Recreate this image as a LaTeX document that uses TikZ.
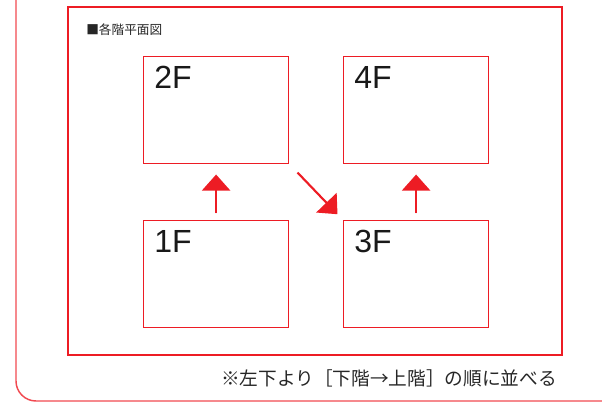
\documentclass[tikz,border=0pt]{standalone}
\usepackage{fontspec}
\setmainfont{Liberation Sans}
\newfontfamily\jpfont{Noto Sans CJK JP}
\usetikzlibrary{arrows.meta}
\definecolor{myred}{RGB}{237,28,36}
\begin{document}
\begin{tikzpicture}[x=0.75pt,y=-0.75pt,
  floorbox/.style={draw=myred,line width=0.9pt,minimum width=108.75pt,minimum height=80pt,inner sep=0pt,anchor=north west},
  floorlabel/.style={anchor=base west,inner sep=0pt,font=\fontsize{24}{24}\selectfont,text=black!90},
  redarrow/.style={draw=myred,fill=myred,line width=1.6pt,-{Triangle[width=21pt,length=12pt]}}]
\useasboundingbox (0,0) rectangle (602,403);
\begin{scope}
\clip (0,0) rectangle (602,403);
\draw[myred!80,line width=1.1pt,rounded corners=15pt] (16,-30) rectangle (622,401);
\end{scope}
\draw[myred,line width=2.2pt] (68,7) rectangle (562,355);
\node[anchor=west,inner sep=0pt,font=\jpfont\fontsize{9.5}{10}\selectfont,text=black!85] (title) at (86,30) {■各階平面図};
\node[floorbox] (f2) at (143,56) {};
\node[floorbox] (f4) at (343,56) {};
\node[floorbox] (f1) at (143,220) {};
\node[floorbox] (f3) at (343,220) {};
\node[floorlabel] (l2) at (154,88.5) {2F};
\node[floorlabel] (l4) at (354,88.5) {4F};
\node[floorlabel] (l1) at (154,252.5) {1F};
\node[floorlabel] (l3) at (354,252.5) {3F};
\draw[redarrow,shorten <=5pt,shorten >=8pt] (f1.north) -- (f2.south);
\draw[redarrow,shorten <=5pt,shorten >=8pt] (f3.north) -- (f4.south);
\draw[redarrow,shorten <=9pt,shorten >=6pt] (f2.south east) -- (f3.north west);
\node[anchor=west,inner sep=0pt,font=\jpfont\fontsize{14}{15}\selectfont,text=black!85] (note) at (221,378) {※左下より［下階→上階］の順に並べる};
\end{tikzpicture}
\end{document}
